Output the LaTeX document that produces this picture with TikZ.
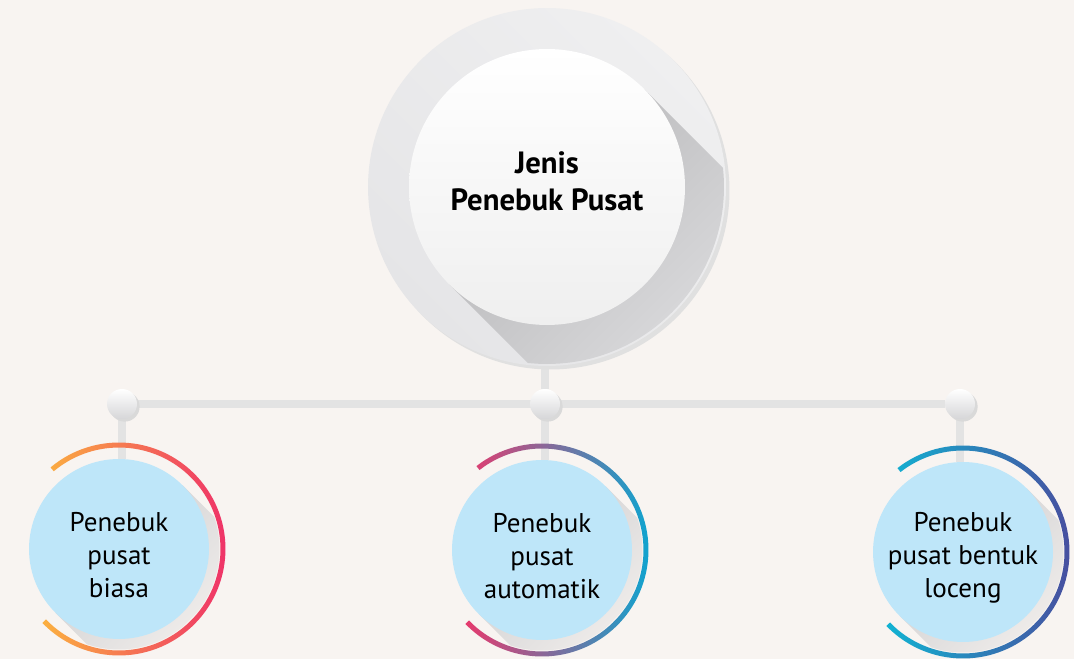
\documentclass[tikz,border=0pt]{standalone}
\usepackage{fontspec}
\setmainfont{PT Sans}
\usetikzlibrary{shapes, calc, backgrounds, shadows}
\definecolor{paper}{HTML}{F8F4F1}
\definecolor{ringgray}{HTML}{E5E5E7}
\definecolor{ringlight}{HTML}{EFEFF0}
\definecolor{hubgray}{HTML}{EFEFEF}
\definecolor{shadowdark}{HTML}{B6B6B8}
\definecolor{shadowlight}{HTML}{E2E2E4}
\definecolor{leafshadow}{HTML}{CDCDCF}
\definecolor{bargray}{HTML}{E3E3E3}
\definecolor{knobgray}{HTML}{D6D6D8}
\definecolor{leafblue}{HTML}{BEE6F9}
\definecolor{arcyellow}{HTML}{FBB040}
\definecolor{arcred}{HTML}{EE2A6B}
\definecolor{arcpink}{HTML}{E63A6E}
\definecolor{arccyan}{HTML}{00ABD6}
\definecolor{arcteal}{HTML}{12B2D2}
\definecolor{arcindigo}{HTML}{4B489C}
\tikzstyle{ring} = [circle, minimum size=7.16cm, bottom color=ringgray, top color=ringlight, shading angle=-45, general shadow={fill=black!12, shadow xshift=2pt, shadow yshift=-2pt}]
\tikzstyle{hub} = [circle, minimum size=5.52cm, top color=white, bottom color=hubgray]
\tikzstyle{hubtext} = [align=center, font=\bfseries\fontsize{17.5}{21}\selectfont]
\tikzstyle{knob} = [circle, minimum size=0.6cm, top color=white, bottom color=knobgray, general shadow={fill=black!15, shadow xshift=1.5pt, shadow yshift=-1.5pt}]
\tikzstyle{leaf} = [circle, minimum size=3.6cm, fill=leafblue]
\tikzstyle{leaftext} = [align=center, font=\fontsize{15.4}{18.7}\selectfont]
\tikzstyle{bar} = [line width=0.16cm, draw=bargray]

\begin{document}
\begin{tikzpicture}[x=0.02cm, y=0.02cm]
    \begin{pgfonlayer}{background}
        \fill[paper] (0,0) rectangle (1074,659);
    \end{pgfonlayer}
    \useasboundingbox (0,0) rectangle (1074,659);

    % Nodes
    \node (ring) [ring] at (547,472) {};
    \begin{scope}
        \clip (ring.center) circle (3.54cm);
        \shade[top color=shadowdark, bottom color=shadowlight, shading angle=45]
            ($(ring.center)+(45:2.76cm)$) -- ++(-45:4cm) -- ++(225:5.52cm) -- ($(ring.center)+(225:2.76cm)$) -- cycle;
    \end{scope}
    \node (jenis) [hub, label={[hubtext, yshift=0.12cm]center:Jenis\\Penebuk Pusat}] at (ring.center) {};

    \node (k1) [knob] at (122,255) {};
    \node (k2) [knob] at (545,255) {};
    \node (k3) [knob] at (960,255) {};

    \node (biasa) [leaf, label={[leaftext, yshift=-0.12cm]center:Penebuk\\pusat\\biasa}] at (119,110) {};
    \node (auto) [leaf, label={[leaftext, yshift=-0.12cm]center:Penebuk\\pusat\\automatik}] at (542,109) {};
    \node (loceng) [leaf, label={[leaftext, yshift=-0.12cm]center:Penebuk\\pusat bentuk\\loceng}] at (963,107) {};

    % Arcs
    \shade[left color=arcyellow, right color=arcred]
        ($(biasa.center)+(130:2.13cm)$) arc[start angle=130, end angle=-136, radius=2.13cm]
        -- ($(biasa.center)+(-136:2.03cm)$) arc[start angle=-136, end angle=130, radius=2.03cm] -- cycle;
    \shade[left color=arcpink, right color=arccyan]
        ($(auto.center)+(128:2.13cm)$) arc[start angle=128, end angle=-136, radius=2.13cm]
        -- ($(auto.center)+(-136:2.03cm)$) arc[start angle=-136, end angle=128, radius=2.03cm] -- cycle;
    \shade[left color=arcteal, right color=arcindigo]
        ($(loceng.center)+(128:2.13cm)$) arc[start angle=128, end angle=-136, radius=2.13cm]
        -- ($(loceng.center)+(-136:2.03cm)$) arc[start angle=-136, end angle=128, radius=2.03cm] -- cycle;

    % Connectors
    \begin{pgfonlayer}{background}
        \draw [bar] (ring.south -| k2) -- (k2);
        \draw [bar] (k1) -- (k3);
        \draw [bar] (k1) -- (k1 |- biasa.north);
        \draw [bar] (k2) -- (k2 |- auto.north);
        \draw [bar] (k3) -- (k3 |- loceng.north);
        % long shadows of the small circles
        \begin{scope}
            \clip (biasa.center) circle (2.01cm);
            \shade[top color=leafshadow, bottom color=paper, shading angle=45]
                ($(biasa.center)+(45:1.8cm)$) -- ++(-45:2cm) -- ++(225:3.6cm) -- ($(biasa.center)+(225:1.8cm)$) -- cycle;
        \end{scope}
        \begin{scope}
            \clip (auto.center) circle (2.01cm);
            \shade[top color=leafshadow, bottom color=paper, shading angle=45]
                ($(auto.center)+(45:1.8cm)$) -- ++(-45:2cm) -- ++(225:3.6cm) -- ($(auto.center)+(225:1.8cm)$) -- cycle;
        \end{scope}
        \begin{scope}
            \clip (loceng.center) circle (2.01cm);
            \shade[top color=leafshadow, bottom color=paper, shading angle=45]
                ($(loceng.center)+(45:1.8cm)$) -- ++(-45:2cm) -- ++(225:3.6cm) -- ($(loceng.center)+(225:1.8cm)$) -- cycle;
        \end{scope}
    \end{pgfonlayer}
\end{tikzpicture}
\end{document}
